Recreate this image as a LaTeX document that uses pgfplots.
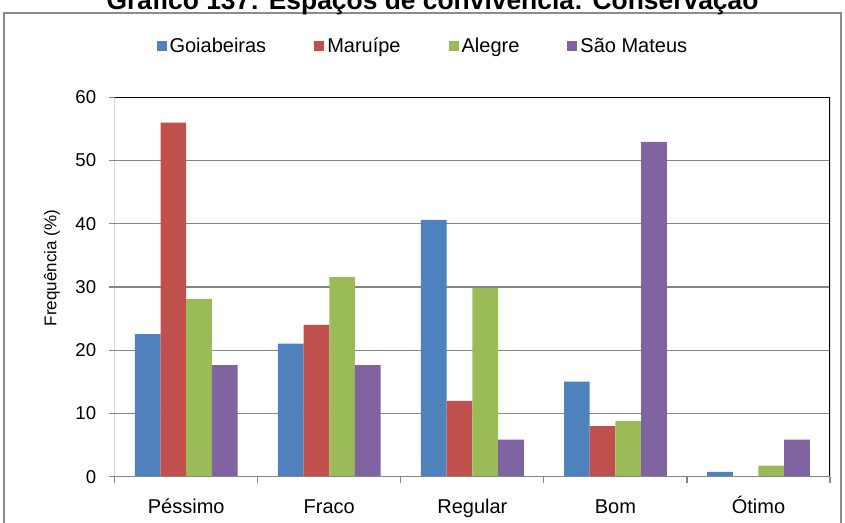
\documentclass[border=0pt]{standalone}
\usepackage{fontspec}
\setmainfont{Liberation Sans}
\usepackage{pgfplots}
\pgfplotsset{compat=1.18}
\definecolor{cblue}{HTML}{4F81BD}
\definecolor{cred}{HTML}{C0504D}
\definecolor{cgreen}{HTML}{9BBB59}
\definecolor{cpurple}{HTML}{8064A2}
\definecolor{cgrid}{HTML}{868686}
\definecolor{cframe}{HTML}{8C8C8C}
\pgfplotsset{sq/.style={legend image code/.code={\fill[##1] (0bp,-5bp) rectangle (10bp,5bp);}}}
\begin{document}
\begin{tikzpicture}
\useasboundingbox (0,0) rectangle (845bp,523bp);
\clip (0,0) rectangle (845bp,523bp);
\draw[draw=cframe, line width=1.5bp] (4bp,-10bp) rectangle (841bp,510bp);
\node[anchor=base, font=\bfseries\fontsize{26.4bp}{30bp}\selectfont] at (432.5bp,513.5bp) {Gráfico 137: Espaços de convivência: Conservação};
\begin{axis}[
  at={(114.7bp,46.3bp)}, anchor=south west, scale only axis,
  width=715.3bp, height=379.4bp,
  xmin=-0.5, xmax=4.5, ymin=0, ymax=60,
  ybar=0pt, bar width=25.7bp,
  xtick={-0.5,0.5,...,4.5}, x tick label as interval,
  xticklabels={Péssimo,Fraco,Regular,Bom,Ótimo},
  ytick={0,10,...,60},
  tick pos=left, tick align=outside, major tick length=6bp,
  every tick/.style={cgrid, line width=1.2bp},
  ymajorgrids, grid style={color=cgrid, line width=1.2bp},
  axis line style={draw=none},
  /pgf/number format/assume math mode=true,
  yticklabel style={font=\fontsize{18.6bp}{22bp}\selectfont, xshift=-9bp},
  xticklabel style={font=\fontsize{20bp}{24bp}\selectfont, text height=15bp, text depth=4bp, yshift=-12bp},
  ylabel={Frequência (\%)},
  ylabel style={at={(axis description cs:-0.0877,0.55)}, anchor=center, font=\fontsize{17bp}{20bp}\selectfont},
  legend style={at={(axis description cs:0.4315,1.135)}, anchor=center, draw=none, fill=none,
    font=\fontsize{20bp}{24bp}\selectfont, legend columns=4,
    nodes={inner xsep=3bp},
    /tikz/every even column/.append style={column sep=45bp}},
  legend cell align=left,
]
\addplot[fill=cblue, draw=none, sq] coordinates {(0,22.56) (1,21.05) (2,40.60) (3,15.04) (4,0.75)};
\addplot[fill=cred, draw=none, sq] coordinates {(0,56) (1,24) (2,12) (3,8) (4,0)};
\addplot[fill=cgreen, draw=none, sq] coordinates {(0,28.07) (1,31.58) (2,29.82) (3,8.77) (4,1.75)};
\addplot[fill=cpurple, draw=none, sq] coordinates {(0,17.65) (1,17.65) (2,5.88) (3,52.94) (4,5.88)};
\legend{Goiabeiras,Maruípe,Alegre,São Mateus}
\draw[black, line width=1.5bp] (rel axis cs:0,1) -- (rel axis cs:1,1) -- (rel axis cs:1,0);
\draw[cgrid, line width=1.5bp] (rel axis cs:0,1) -- (rel axis cs:0,0) -- (rel axis cs:1,0);
\end{axis}
\end{tikzpicture}
\end{document}
